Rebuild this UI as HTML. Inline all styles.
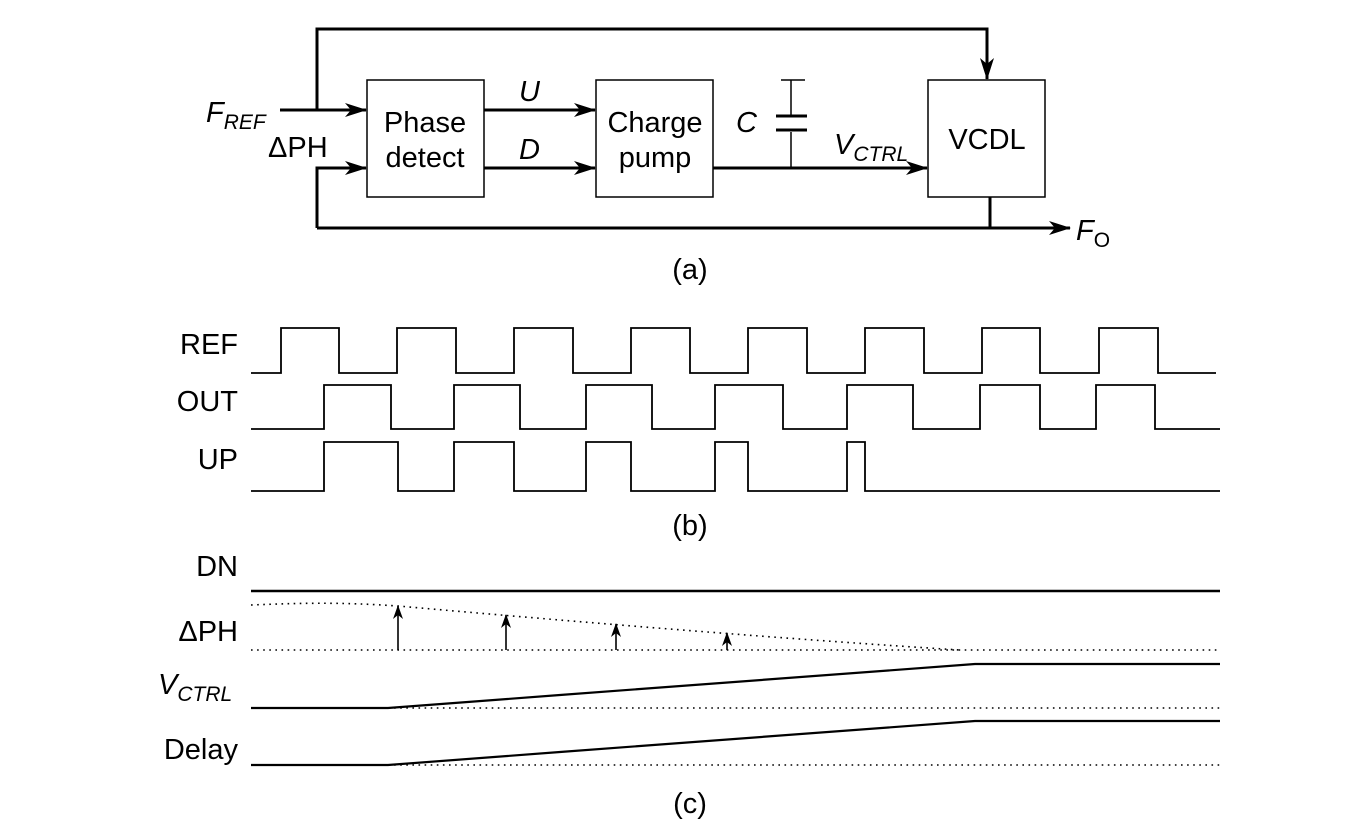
<!DOCTYPE html>
<html><head><meta charset="utf-8"><style>
html,body{margin:0;padding:0;background:#fff;}
svg{display:block;}
text{font-family:"Liberation Sans",sans-serif;fill:#000;}
</style></head><body>
<svg width="1355" height="832" viewBox="0 0 1355 832" xmlns="http://www.w3.org/2000/svg">
<defs>
<marker id="ah" markerWidth="22" markerHeight="14" refX="21" refY="7" orient="auto" markerUnits="userSpaceOnUse">
<path d="M0,0 L22,7 L0,14 L6,7 Z" fill="#000"/></marker>
<marker id="as" markerWidth="10" markerHeight="14" refX="5" refY="1" orient="0" markerUnits="userSpaceOnUse">
<path d="M5,0 L10,14 L5,10 L0,14 Z" fill="#000"/></marker>
</defs>
<g fill="none" stroke="#000">
<!-- (a) -->
<rect x="367" y="80" width="117" height="117" stroke-width="1.5"/>
<rect x="596" y="80" width="117" height="117" stroke-width="1.5"/>
<rect x="928" y="80" width="117" height="117" stroke-width="1.5"/>
<path d="M317,110 V29 H987 V79" stroke-width="3" marker-end="url(#ah)"/>
<path d="M280,110 H366" stroke-width="3" marker-end="url(#ah)"/>
<path d="M484,110 H595" stroke-width="3" marker-end="url(#ah)"/>
<path d="M484,168 H595" stroke-width="3" marker-end="url(#ah)"/>
<path d="M317,228 V168 H366" stroke-width="3" marker-end="url(#ah)"/>
<path d="M713,168 H927" stroke-width="3" marker-end="url(#ah)"/>
<path d="M317,228 H1070" stroke-width="3" marker-end="url(#ah)"/>
<path d="M990,197 V228" stroke-width="3"/>
<path d="M791,80 V115 M791,132 V168 M781,80 H805" stroke-width="1.5"/>
<path d="M776,116 H807 M776,130 H807" stroke-width="3"/>
<!-- (b) -->
<path stroke-width="1.8" d="M251,373 H281 V328 H339 V373 H397 V328 H456 V373 H514 V328 H573 V373 H631 V328 H690 V373 H748 V328 H807 V373 H865 V328 H924 V373 H982 V328 H1040 V373 H1099 V328 H1158 V373 H1216"/>
<path stroke-width="1.8" d="M251,429 H324 V385 H391 V429 H454 V385 H520 V429 H586 V385 H652 V429 H715 V385 H783 V429 H847 V385 H913 V429 H980 V385 H1040 V429 H1096 V385 H1155 V429 H1220"/>
<path stroke-width="1.8" d="M251,491 H324 V442 H398 V491 H454 V442 H514 V491 H586 V442 H631 V491 H715 V442 H748 V491 H847 V442 H865 V491 H1220"/>
<!-- (c) -->
<path d="M251,591 H1220" stroke-width="2.5"/>
<g stroke-width="1.6" stroke-dasharray="1.6 4.5">
<path d="M251,605 C300,603 340,602 398,606 C600,624 800,640 960,650"/>
<path d="M251,650 H1220"/>
<path d="M388,708 H1220"/>
<path d="M388,765 H1220"/>
</g>
<g stroke-width="1.6" marker-end="url(#as)">
<path d="M398,650 V606"/><path d="M506,650 V615"/><path d="M616,650 V624"/><path d="M727,650 V633"/>
</g>
<path d="M251,708 H388 Q470,702 560,695 L975,664 H1220" stroke-width="2.2"/>
<path d="M251,765 H388 Q470,759 560,752 L975,721 H1220" stroke-width="2.2"/>
</g>
<g font-size="29">
<text x="206" y="122" font-style="italic">F<tspan font-size="21" dy="7">REF</tspan></text>
<text x="268" y="157">ΔPH</text>
<text x="425" y="132" text-anchor="middle">Phase</text>
<text x="425" y="167" text-anchor="middle">detect</text>
<text x="655" y="132" text-anchor="middle">Charge</text>
<text x="655" y="167" text-anchor="middle">pump</text>
<text x="987" y="149" text-anchor="middle">VCDL</text>
<text x="519" y="101" font-style="italic">U</text>
<text x="519" y="159" font-style="italic">D</text>
<text x="736" y="132" font-style="italic">C</text>
<text x="834" y="154" font-style="italic">V<tspan font-size="21" dy="7">CTRL</tspan></text>
<text x="1076" y="240" font-style="italic">F<tspan font-size="21" dy="7" font-style="normal">O</tspan></text>
<text x="690" y="279" text-anchor="middle">(a)</text>
<text x="238" y="354" text-anchor="end">REF</text>
<text x="238" y="411" text-anchor="end">OUT</text>
<text x="238" y="469" text-anchor="end">UP</text>
<text x="690" y="535" text-anchor="middle">(b)</text>
<text x="238" y="576" text-anchor="end">DN</text>
<text x="238" y="641" text-anchor="end">ΔPH</text>
<text x="158" y="694" font-style="italic">V<tspan font-size="21" dy="7">CTRL</tspan></text>
<text x="238" y="759" text-anchor="end">Delay</text>
<text x="690" y="813" text-anchor="middle">(c)</text>
</g>
</svg>
</body></html>
